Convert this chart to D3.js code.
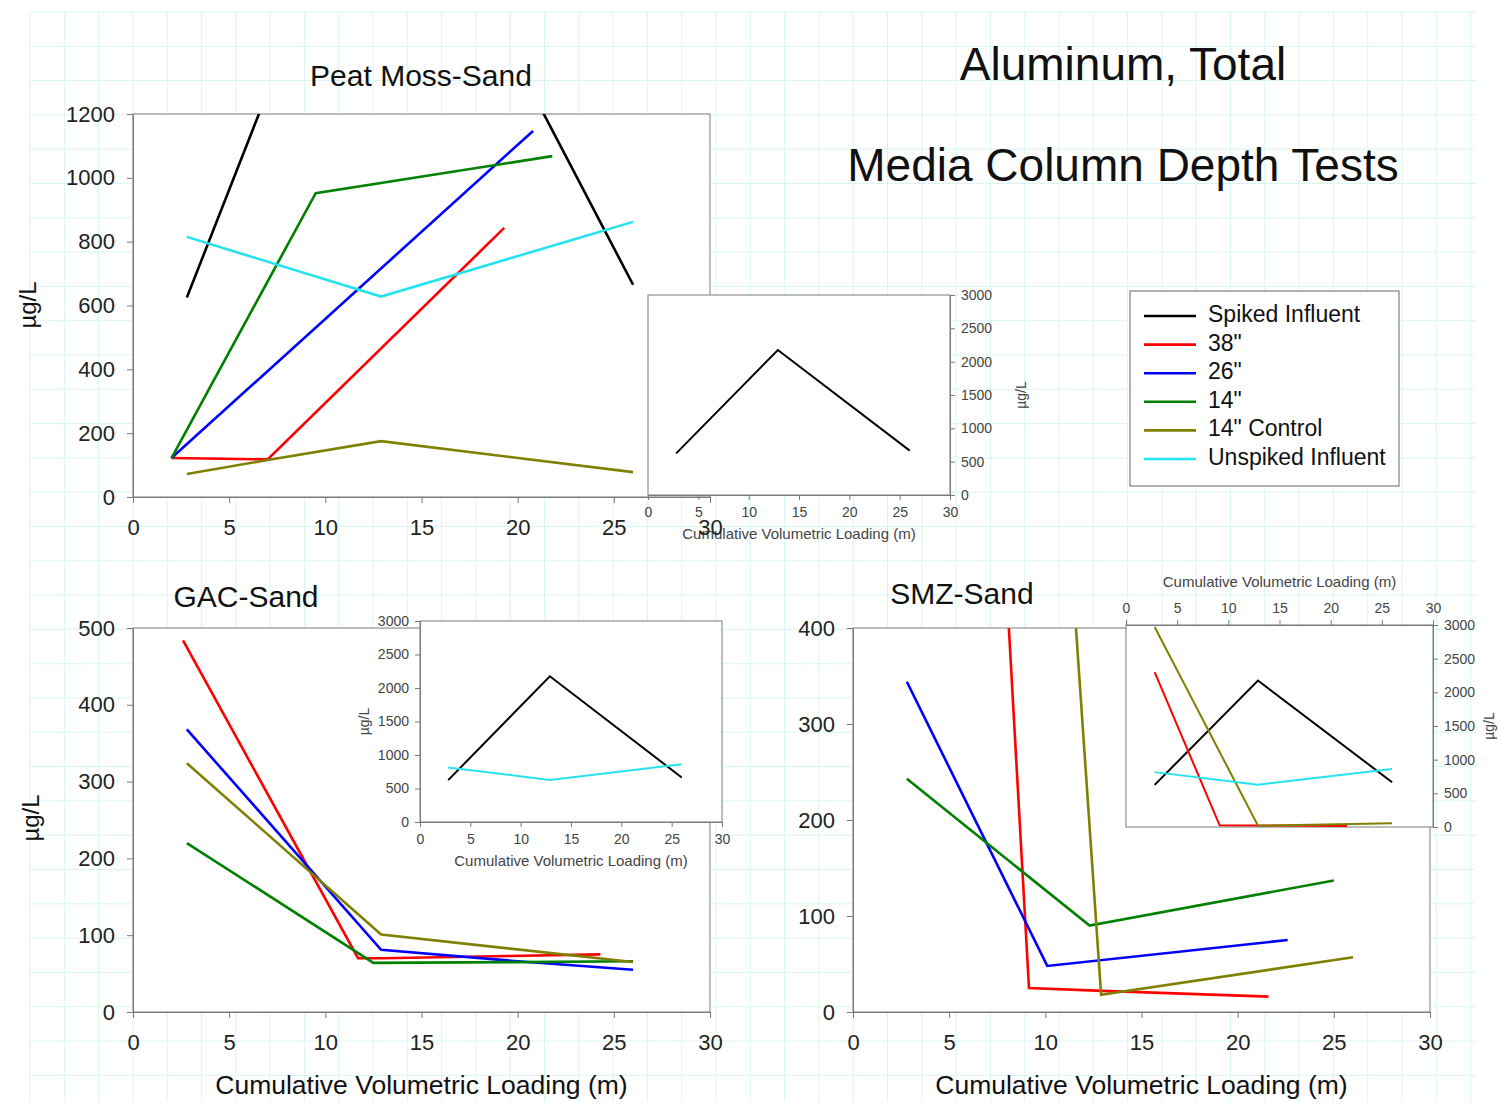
<!DOCTYPE html>
<html>
<head>
<meta charset="utf-8">
<script src="https://cdn.jsdelivr.net/npm/d3@7"></script>
<style>
  body { margin: 0; background: #fff; }
  text { font-family: "Liberation Sans", Arial, sans-serif; }
</style>
</head>
<body>
<div class="chart"></div>
<script>
// ---- data ----
var seriesNames = ["Spiked Influent", "38\"", "26\"", "14\"", "14\" Control", "Unspiked Influent"];
var seriesColors = ["#000000", "#ff0000", "#0000ff", "#008000", "#808000", "#22e3ee"];

// influent is shared by all three media
var spikedX = [2.8, 12.9, 26.0];
var spikedY = [625, 2175, 665];
var unspikedX = [2.8, 12.9, 26.0];
var unspikedY = [815, 628, 862];

// Peat Moss-Sand
var peat38X = [2.0, 7.0, 19.3];
var peat38Y = [122, 118, 843];
var peat26X = [2.0, 20.8];
var peat26Y = [122, 1147];
var peat14X = [2.0, 9.5, 21.8];
var peat14Y = [122, 952, 1068];
var peat14cX = [2.8, 7.0, 12.9, 26.0];
var peat14cY = [72, 116, 175, 78];

// GAC-Sand
var gac38X = [2.6, 11.7, 13.0, 19.5, 24.3];
var gac38Y = [484, 70, 70, 73, 75];
var gac26X = [2.8, 12.9, 20.0, 26.0];
var gac26Y = [368, 81, 66, 55];
var gac14X = [2.8, 12.5, 20.0, 26.0];
var gac14Y = [220, 64, 65, 66];
var gac14cX = [2.8, 12.9, 26.0];
var gac14cY = [324, 101, 65];

// SMZ-Sand
var smz38X = [2.8, 9.15, 13.0, 21.6];
var smz38Y = [2300, 25, 22, 16];
var smz26X = [2.8, 10.1, 22.6];
var smz26Y = [344, 48, 75];
var smz14X = [2.8, 12.3, 25.0];
var smz14Y = [243, 90, 137];
var smz14cX = [2.8, 12.9, 26.0];
var smz14cY = [2970, 18, 57];

var xTicks = [0, 5, 10, 15, 20, 25, 30];
var insetYTicks = [0, 500, 1000, 1500, 2000, 2500, 3000];

var svgWidth = 1500;
var svgHeight = 1107;

var svg = d3.select(".chart")
  .append("svg")
  .attr("width", svgWidth)
  .attr("height", svgHeight);

// faint cyan paper grid behind everything
var grid = svg.append("g")
  .attr("stroke", "#d9f5f2")
  .attr("stroke-width", 1);
d3.range(30, 1478, 34.3).forEach(function (x) {
  grid.append("line").attr("x1", x).attr("x2", x).attr("y1", 12).attr("y2", 1102);
});
d3.range(12, 1104, 34.3).forEach(function (y) {
  grid.append("line").attr("x1", 30).attr("x2", 1476).attr("y1", y).attr("y2", y);
});

function makeSeries(xs, ys, i) {
  return { name: seriesNames[i], color: seriesColors[i], points: d3.zip(xs, ys) };
}

var clipCount = 0;
var plain = d3.format("d");

function styleAxis(g, size, color) {
  g.selectAll("path, line").attr("stroke", "#7a7a7a");
  g.selectAll("text")
    .attr("font-size", size)
    .attr("fill", color)
    .attr("font-family", "\"Liberation Sans\", Arial, sans-serif");
}

// small 0-3000 chart laid over a panel
function drawInset(o) {
  var x = d3.scaleLinear().domain([0, 30]).range([o.l, o.r]);
  var y = d3.scaleLinear().domain([0, 3000]).range([o.b, o.t]);
  var g = svg.append("g");

  g.append("rect")
    .attr("x", o.l).attr("y", o.t)
    .attr("width", o.r - o.l).attr("height", o.b - o.t)
    .attr("fill", "#fff")
    .attr("stroke", "#7a7a7a");

  var line = d3.line().x(d => x(d[0])).y(d => y(d[1]));
  g.selectAll(".iline")
    .data(o.series)
    .enter()
    .append("path")
    .attr("d", d => line(d.points))
    .attr("fill", "none")
    .attr("stroke", d => d.color)
    .attr("stroke-width", 2);

  var xAxis = (o.xSide === "top" ? d3.axisTop(x) : d3.axisBottom(x))
    .tickValues(xTicks).tickFormat(plain).tickSize(5).tickSizeOuter(0).tickPadding(7);
  var xa = g.append("g")
    .attr("transform", `translate(0, ${o.xSide === "top" ? o.t : o.b})`)
    .call(xAxis);
  styleAxis(xa, 14, "#444");

  var yAxis = (o.ySide === "left" ? d3.axisLeft(y) : d3.axisRight(y))
    .tickValues(insetYTicks).tickFormat(plain).tickSize(5).tickSizeOuter(0).tickPadding(6);
  var ya = g.append("g")
    .attr("transform", `translate(${o.ySide === "left" ? o.l : o.r}, 0)`)
    .call(yAxis);
  styleAxis(ya, 14, "#444");

  g.append("text")
    .attr("x", (o.l + o.r) / 2)
    .attr("y", o.xlabelY)
    .attr("text-anchor", "middle")
    .attr("dominant-baseline", "middle")
    .attr("font-size", 15)
    .attr("fill", "#444")
    .text("Cumulative Volumetric Loading (m)");

  g.append("text")
    .attr("transform", `translate(${o.ylabelX}, ${(o.t + o.b) / 2}) rotate(-90)`)
    .attr("text-anchor", "middle")
    .attr("dominant-baseline", "middle")
    .attr("font-size", 14)
    .attr("fill", "#444")
    .text("µg/L");
}

function drawPanel(p) {
  var x = d3.scaleLinear().domain([0, 30]).range([p.l, p.r]);
  var y = d3.scaleLinear().domain([0, p.ymax]).range([p.b, p.t]);
  var id = "clip" + (clipCount++);

  svg.append("clipPath").attr("id", id)
    .append("rect")
    .attr("x", p.l).attr("y", p.t)
    .attr("width", p.r - p.l).attr("height", p.b - p.t);

  svg.append("rect")
    .attr("x", p.l).attr("y", p.t)
    .attr("width", p.r - p.l).attr("height", p.b - p.t)
    .attr("fill", "#fff")
    .attr("stroke", "#7a7a7a");

  var line = d3.line().x(d => x(d[0])).y(d => y(d[1]));
  svg.append("g")
    .attr("clip-path", `url(#${id})`)
    .selectAll("path")
    .data(p.series)
    .enter()
    .append("path")
    .attr("d", d => line(d.points))
    .attr("fill", "none")
    .attr("stroke", d => d.color)
    .attr("stroke-width", 2.6);

  if (p.inset) drawInset(p.inset);

  // axes go on top so the "30" label sits over the inset like in the original
  var xa = svg.append("g")
    .attr("transform", `translate(0, ${p.b})`)
    .call(d3.axisBottom(x).tickValues(xTicks).tickFormat(plain).tickSize(6).tickSizeOuter(0).tickPadding(16));
  styleAxis(xa, 22, "#222");

  var ya = svg.append("g")
    .attr("transform", `translate(${p.l}, 0)`)
    .call(d3.axisLeft(y).tickValues(d3.range(0, p.ymax + 1, p.ystep)).tickFormat(plain)
      .tickSize(6).tickSizeOuter(0).tickPadding(12));
  styleAxis(ya, 22, "#222");

  svg.append("text")
    .attr("x", p.titleX)
    .attr("y", p.titleY)
    .attr("text-anchor", "middle")
    .attr("dominant-baseline", "middle")
    .attr("font-size", 30)
    .attr("fill", "#111")
    .text(p.title);

  if (p.ylabelX) {
    svg.append("text")
      .attr("transform", `translate(${p.ylabelX}, ${p.ylabelY}) rotate(-90)`)
      .attr("text-anchor", "middle")
      .attr("dominant-baseline", "middle")
      .attr("font-size", 24)
      .attr("fill", "#111")
      .text("µg/L");
  }
  if (p.xlabel) {
    svg.append("text")
      .attr("x", (p.l + p.r) / 2)
      .attr("y", 1087)
      .attr("text-anchor", "middle")
      .attr("dominant-baseline", "middle")
      .attr("font-size", 26.5)
      .attr("fill", "#111")
      .text("Cumulative Volumetric Loading (m)");
  }
}

var spiked = makeSeries(spikedX, spikedY, 0);
var unspiked = makeSeries(unspikedX, unspikedY, 5);

var peatSeries = [spiked, makeSeries(peat38X, peat38Y, 1), makeSeries(peat26X, peat26Y, 2),
  makeSeries(peat14X, peat14Y, 3), makeSeries(peat14cX, peat14cY, 4), unspiked];
var gacSeries = [spiked, makeSeries(gac38X, gac38Y, 1), makeSeries(gac26X, gac26Y, 2),
  makeSeries(gac14X, gac14Y, 3), makeSeries(gac14cX, gac14cY, 4), unspiked];
var smzSeries = [spiked, makeSeries(smz38X, smz38Y, 1), makeSeries(smz26X, smz26Y, 2),
  makeSeries(smz14X, smz14Y, 3), makeSeries(smz14cX, smz14cY, 4), unspiked];

drawPanel({
  title: "Peat Moss-Sand", titleX: 421, titleY: 78,
  l: 133, r: 710, t: 114, b: 497, ymax: 1200, ystep: 200,
  series: peatSeries, ylabelX: 30, ylabelY: 305,
  inset: { l: 648, r: 950, t: 295, b: 495, xSide: "bottom", ySide: "right",
    series: [spiked], xlabelY: 535, ylabelX: 1022 }
});

drawPanel({
  title: "GAC-Sand", titleX: 246, titleY: 599,
  l: 133, r: 710, t: 628, b: 1012, ymax: 500, ystep: 100,
  series: gacSeries, ylabelX: 33, ylabelY: 818, xlabel: true,
  inset: { l: 420, r: 722, t: 621, b: 822, xSide: "bottom", ySide: "left",
    series: [spiked, unspiked], xlabelY: 862, ylabelX: 365 }
});

drawPanel({
  title: "SMZ-Sand", titleX: 962, titleY: 596,
  l: 853, r: 1430, t: 628, b: 1012, ymax: 400, ystep: 100,
  series: smzSeries, xlabel: true,
  inset: { l: 1126, r: 1433, t: 625, b: 827, xSide: "top", ySide: "right",
    series: [spiked, smzSeries[1], smzSeries[4], unspiked], xlabelY: 583, ylabelX: 1490 }
});

// main title
svg.append("text")
  .attr("x", 1123).attr("y", 68)
  .attr("text-anchor", "middle").attr("dominant-baseline", "middle")
  .attr("font-size", 46).attr("fill", "#111")
  .text("Aluminum, Total");
svg.append("text")
  .attr("x", 1123).attr("y", 169)
  .attr("text-anchor", "middle").attr("dominant-baseline", "middle")
  .attr("font-size", 46).attr("fill", "#111")
  .text("Media Column Depth Tests");

// legend
var legend = svg.append("g");
legend.append("rect")
  .attr("x", 1130).attr("y", 291)
  .attr("width", 269).attr("height", 195)
  .attr("fill", "#fff")
  .attr("stroke", "#666");

var rows = legend.selectAll(".row")
  .data(seriesNames)
  .enter()
  .append("g")
  .attr("transform", (d, i) => `translate(1144, ${316 + i * 28.6})`);
rows.append("line")
  .attr("x1", 0).attr("x2", 52)
  .attr("stroke", (d, i) => seriesColors[i])
  .attr("stroke-width", 2.6);
rows.append("text")
  .attr("x", 64)
  .attr("dominant-baseline", "middle")
  .attr("font-size", 23)
  .attr("fill", "#111")
  .text(d => d);
</script>
</body>
</html>
